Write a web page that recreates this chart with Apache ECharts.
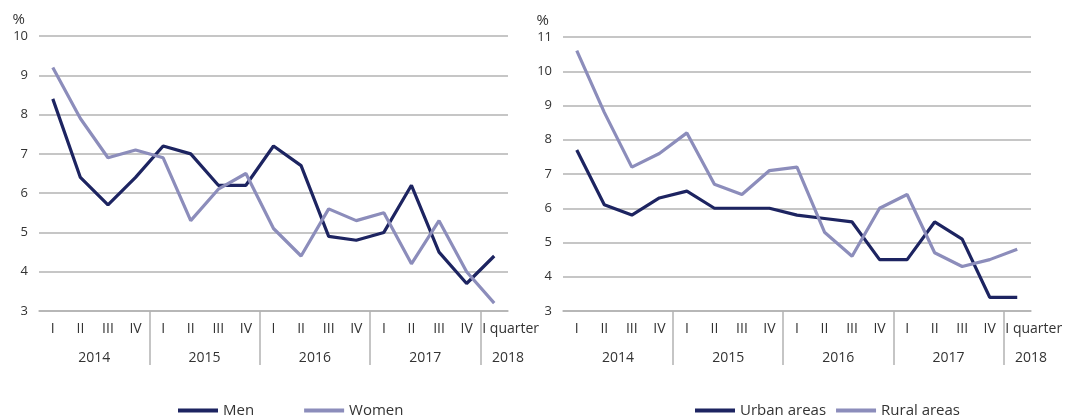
<!DOCTYPE html>
<html>
<head>
<meta charset="utf-8">
<script src="https://cdn.jsdelivr.net/npm/echarts@6/dist/echarts.min.js"></script>
<style>
  html, body { margin: 0; padding: 0; background: #fff; }
  #chart { width: 1067px; height: 417px; }
</style>
</head>
<body>
<div id="chart"></div>
<script>
var quarters = ['I', 'II', 'III', 'IV', 'I', 'II', 'III', 'IV', 'I', 'II', 'III', 'IV', 'I', 'II', 'III', 'IV', 'I quarter'];
var years = ['2014', '2015', '2016', '2017', '2018'];
var quartersPerYear = [4, 4, 4, 4, 1];

var men = [8.4, 6.4, 5.7, 6.4, 7.2, 7.0, 6.2, 6.2, 7.2, 6.7, 4.9, 4.8, 5.0, 6.2, 4.5, 3.7, 4.4];
var women = [9.2, 7.9, 6.9, 7.1, 6.9, 5.3, 6.1, 6.5, 5.1, 4.4, 5.6, 5.3, 5.5, 4.2, 5.3, 4.0, 3.2];
var urban = [7.7, 6.1, 5.8, 6.3, 6.5, 6.0, 6.0, 6.0, 5.8, 5.7, 5.6, 4.5, 4.5, 5.6, 5.1, 3.4, 3.4];
var rural = [10.6, 8.8, 7.2, 7.6, 8.2, 6.7, 6.4, 7.1, 7.2, 5.3, 4.6, 6.0, 6.4, 4.7, 4.3, 4.5, 4.8];

var dark = '#1d2461';
var light = '#8c8dbb';
var grey = '#b3b3b3';
var txt = '#333333';
var font = 'Open Sans';

// year label positions and separators, in quarter units
var yearPos = [], sepPos = [], yearName = {};
var start = 0;
for (var i = 0; i < years.length; i++) {
    var c = start + Math.max(quartersPerYear[i], 2) / 2;
    yearPos.push(c);
    yearName[c] = years[i];
    start += quartersPerYear[i];
    if (i < years.length - 1) sepPos.push(start);
}

function quarterAxis(gi) {
    return {
        type: 'category',
        gridIndex: gi,
        data: quarters,
        boundaryGap: true,
        axisLine: { lineStyle: { color: grey, width: 1.5 } },
        axisTick: { show: false },
        axisLabel: {
            color: txt, fontFamily: font, fontSize: 14, margin: 11, interval: 0,
            formatter: function (v) {
                return v.length > 3 ? '{q|' + v + '}' : '{a|' + v + '}';
            },
            rich: {
                a: { color: txt, fontFamily: font, fontSize: 14 },
                q: { color: txt, fontFamily: font, fontSize: 14, padding: [0, 0, 0, 33] }
            }
        }
    };
}

function yearAxis(gi) {
    return {
        type: 'value',
        gridIndex: gi,
        min: 0,
        max: quarters.length,
        position: 'bottom',
        axisLine: { show: false },
        splitLine: { show: false },
        axisTick: {
            show: true, customValues: sepPos, length: 54,
            lineStyle: { color: grey, width: 1.5 }
        },
        axisLabel: {
            customValues: yearPos, color: txt, fontFamily: font, fontSize: 14, margin: 40,
            formatter: function (v) { return yearName[v] || ''; }
        }
    };
}

function valueAxis(gi, max) {
    return {
        type: 'value',
        gridIndex: gi,
        min: 3,
        max: max,
        interval: 1,
        name: '%',
        nameLocation: 'end',
        nameGap: 9,
        nameTextStyle: { color: txt, fontFamily: font, fontSize: 15, align: 'right', padding: [0, 14, 0, 0] },
        axisLine: { show: false },
        axisTick: { show: false },
        axisLabel: { color: txt, fontFamily: font, fontSize: 13, margin: 11 },
        splitLine: { lineStyle: { color: grey, width: 1.5 } }
    };
}

function lineSeries(name, data, color, gi) {
    return {
        name: name,
        type: 'line',
        xAxisIndex: gi * 2,
        yAxisIndex: gi,
        data: data,
        showSymbol: false,
        symbol: 'none',
        lineStyle: { color: color, width: 3.2 },
        itemStyle: { color: color }
    };
}

var myChart = echarts.init(document.getElementById('chart'));
var option = {
    animation: false,
    grid: [
        { left: 39, top: 36, width: 469, bottom: 106 },
        { left: 563, top: 37, width: 468, bottom: 106 }
    ],
    xAxis: [quarterAxis(0), yearAxis(0), quarterAxis(1), yearAxis(1)],
    yAxis: [valueAxis(0, 10), valueAxis(1, 11)],
    legend: [
        {
            data: ['Men', 'Women'], left: 173, top: 398, icon: 'rect',
            itemWidth: 40, itemHeight: 4, itemGap: 50,
            textStyle: { color: txt, fontFamily: font, fontSize: 15 }
        },
        {
            data: ['Urban areas', 'Rural areas'], left: 690, top: 398, icon: 'rect',
            itemWidth: 40, itemHeight: 4, itemGap: 10,
            textStyle: { color: txt, fontFamily: font, fontSize: 15 }
        }
    ],
    series: [
        lineSeries('Men', men, dark, 0),
        lineSeries('Women', women, light, 0),
        lineSeries('Urban areas', urban, dark, 1),
        lineSeries('Rural areas', rural, light, 1)
    ]
};
myChart.setOption(option);

window.addEventListener('resize', function () {
    myChart.resize();
});
</script>
</body>
</html>
